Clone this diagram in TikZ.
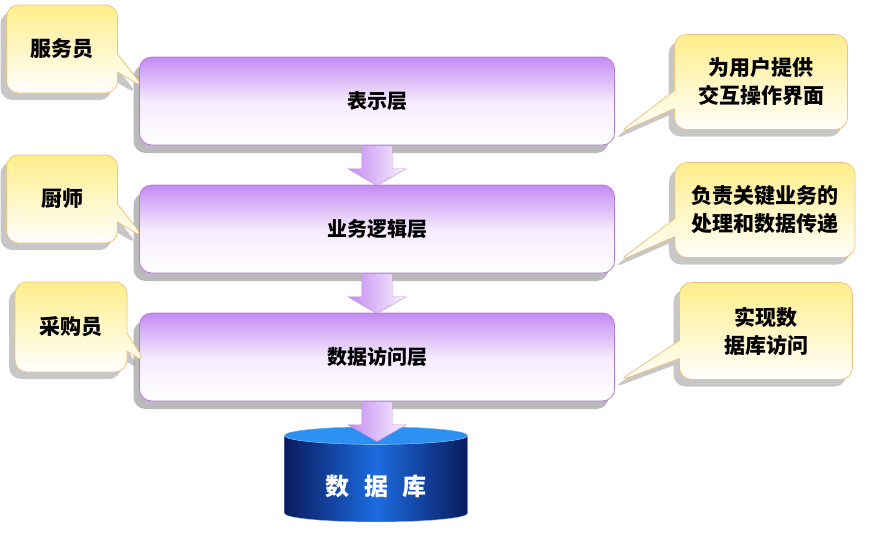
\documentclass[tikz,border=0pt]{standalone}
\usepackage{fontspec}
\newfontfamily\cjk{Noto Sans CJK SC}
\usetikzlibrary{calc,positioning,shapes.callouts,shapes.arrows,shapes.geometric,shadows}
\definecolor{layerPurple}{HTML}{C48AF2}
\definecolor{layerEdge}{HTML}{B27AD6}
\definecolor{noteYellow}{HTML}{FFEE8A}
\definecolor{noteEdge}{HTML}{F0C27E}
\definecolor{dbDark}{HTML}{0A1A5E}
\definecolor{dbMid}{HTML}{1C6CE0}
\definecolor{dbTop}{HTML}{2B90F2}

\begin{document}
\begin{tikzpicture}[x=1pt,y=-1pt,
  layer/.style={draw=layerEdge,thick,rounded corners=12pt,minimum width=475pt,minimum height=88pt,
    top color=layerPurple,bottom color=white,middle color=layerPurple!18,
    font=\cjk\bfseries\fontsize{20}{24}\selectfont,
    drop shadow={shadow xshift=-6pt,shadow yshift=-8pt,fill=black!45,opacity=.6}},
  note/.style={rectangle callout,draw=noteEdge,thick,rounded corners=12pt,align=center,
    top color=noteYellow,bottom color=white,callout pointer width=18pt,
    font=\cjk\bfseries\fontsize{21}{28}\selectfont,
    drop shadow={shadow xshift=-6pt,shadow yshift=-7pt,fill=black!40,opacity=.55}},
  flow/.style={single arrow,rotate=-90,minimum height=40pt,minimum width=0pt,inner xsep=0pt,inner ysep=15pt,
    single arrow head extend=14pt,single arrow tip angle=120,draw=layerEdge!85,
    left color=layerPurple,right color=layerPurple!12},
  store/.style={cylinder,shape border rotate=90,aspect=0.16,minimum width=183pt,minimum height=95pt,
    draw=dbTop!50!white,left color=dbDark,right color=dbDark,middle color=dbMid,text=white,
    text height=30pt,text depth=0pt,font=\cjk\bfseries\fontsize{24}{28}\selectfont}]
\useasboundingbox (0,0) rectangle (882,542);
% layers
\node[layer] (ui) at (377,101) {表示层};
\node[layer] (biz) at (377,229) {业务逻辑层};
\node[layer] (dao) at (377,357) {数据访问层};
\node[flow,anchor=tail] (a1) at (ui.south) {};
\node[flow,anchor=tail] (a2) at (biz.south) {};
% database
\node[store] (db) at (376,480) {数\hspace{0.6em}据\hspace{0.6em}库};
\fill[dbTop,draw=dbTop!50!white] let \p1=(db.before top),\p2=(db.after top),\p3=(db.top) in
  ($(\p1)!.5!(\p2)$) ellipse ({abs(\x2-\x1)/2} and {abs(\y3-\y1)});
\node[flow,anchor=tail] (a3) at (dao.south) {};
% roles
\node[note,minimum width=111pt,minimum height=88pt,callout absolute pointer={($(ui.west)+(5pt,13pt)$)}] (waiter) at (62,49) {服务员};
\node[note,minimum width=111pt,minimum height=88pt,callout absolute pointer={($(biz.west)+(5pt,-9pt)$)}] (chef) at (62,199) {厨师};
\node[note,minimum width=112pt,minimum height=90pt,callout absolute pointer={($(dao.west)+(7pt,-6pt)$)}] (buyer) at (71,327) {采购员};
% duties
\node[note,minimum width=173pt,minimum height=95pt,callout absolute pointer={($(ui.south east)+(3pt,12pt)$)}] (uinote) at (761,82) {为用户提供\\交互操作界面};
\node[note,minimum width=180pt,minimum height=95pt,callout absolute pointer={($(biz.south east)+(3pt,12pt)$)}] (biznote) at (765,210) {负责关键业务的\\处理和数据传递};
\node[note,minimum width=173pt,minimum height=97pt,callout absolute pointer={($(dao.south east)+(3pt,20pt)$)}] (daonote) at (766,331) {实现数\\据库访问};
\end{tikzpicture}
\end{document}
